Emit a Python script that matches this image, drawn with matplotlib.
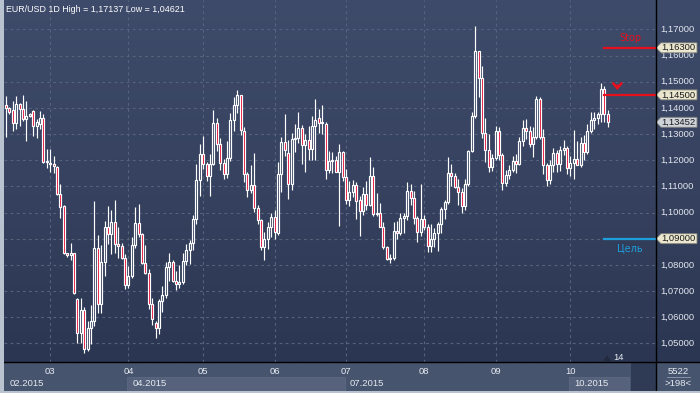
import numpy as np
import matplotlib
matplotlib.use("Agg")
import matplotlib.pyplot as plt
import matplotlib.transforms as mtrans
from matplotlib.patches import Rectangle, Polygon
from matplotlib.colors import LinearSegmentedColormap

plt.rcParams['font.family'] = ['Liberation Sans', 'DejaVu Sans']

# ---------------- data (EUR/USD daily, Feb - Oct 2015) ----------------
opens = [
    # Feb
    1.1410, 1.1398, 1.1392, 1.1343, 1.1415, 1.1396, 1.1358, 1.1370, 1.1390, 1.1332, 1.1339, 1.1362, 1.1194,
    # Mar
    1.1190, 1.1187, 1.1175, 1.1070, 1.1026, 1.0844, 1.0836, 1.0845, 1.0668, 1.0538, 1.0626, 1.0480, 1.0560,
    1.0585, 1.0866, 1.0649, 1.0809, 1.0943, 1.0917, 1.0962, 1.0879, 1.0873, 1.0828,
    # Apr
    1.0723, 1.0758, 1.0876, 1.0960, 1.0917, 1.0806, 1.0770, 1.0649, 1.0579, 1.0557, 1.0660, 1.0685, 1.0790,
    1.0810, 1.0740, 1.0728, 1.0735, 1.0816, 1.0857, 1.0884, 1.0976, 1.1125,
    # May
    1.1222, 1.1187, 1.1139, 1.1184, 1.1342, 1.1263, 1.1190, 1.1148, 1.1210, 1.1353, 1.1410, 1.1449, 1.1312,
    1.1148, 1.1087, 1.1106, 1.1018, 1.0972, 1.0870, 1.0900, 1.0944,
    # Jun
    1.0982, 1.0921, 1.1148, 1.1270, 1.1228, 1.1110, 1.1283, 1.1286, 1.1322, 1.1257, 1.1279, 1.1243, 1.1332,
    1.1362, 1.1341, 1.1339, 1.1162, 1.1198, 1.1200, 1.1154, 1.1233,
    # Jul
    1.1137, 1.1048, 1.1080, 1.1105, 1.1048, 1.1007, 1.1070, 1.1030, 1.1141, 1.0994, 1.0999, 1.0945, 1.0869,
    1.0822, 1.0825, 1.0928, 1.0920, 1.0981, 1.0985, 1.1083, 1.1055, 1.0979, 1.0924,
    # Aug
    1.0975, 1.0943, 1.0873, 1.0898, 1.0920, 1.0956, 1.1013, 1.1039, 1.1150, 1.1140, 1.1096, 1.1080, 1.1025,
    1.1110, 1.1235, 1.1369, 1.1619, 1.1514, 1.1305, 1.1241, 1.1174,
    # Sep
    1.1209, 1.1312, 1.1219, 1.1113, 1.1142, 1.1162, 1.1196, 1.1187, 1.1273, 1.1322, 1.1310, 1.1263, 1.1290,
    1.1433, 1.1290, 1.1183, 1.1126, 1.1183, 1.1228, 1.1186, 1.1241, 1.1245,
    # Oct
    1.1171, 1.1190, 1.1205, 1.1180, 1.1267, 1.1233, 1.1312, 1.1353, 1.1360, 1.1376, 1.1472, 1.1378,
]
highs = [
    1.1447, 1.1402, 1.1428, 1.1447, 1.1418, 1.1451, 1.1428, 1.1382, 1.1392, 1.1358, 1.1390, 1.1377, 1.1243,
    1.1243, 1.1217, 1.1179, 1.1109, 1.1030, 1.0847, 1.0885, 1.0847, 1.0675, 1.0675, 1.0640, 1.0585, 1.0647,
    1.1043, 1.0915, 1.0876, 1.0968, 1.1026, 1.1009, 1.1049, 1.0945, 1.0885, 1.0841,
    1.0796, 1.0905, 1.1022, 1.1032, 1.0923, 1.0876, 1.0783, 1.0675, 1.0585, 1.0670, 1.0720, 1.0812, 1.0846,
    1.0818, 1.0778, 1.0800, 1.0845, 1.0880, 1.0895, 1.0989, 1.1187, 1.1263,
    1.1291, 1.1194, 1.1222, 1.1391, 1.1362, 1.1286, 1.1204, 1.1273, 1.1382, 1.1440, 1.1468, 1.1449, 1.1327,
    1.1155, 1.1180, 1.1228, 1.1027, 1.0976, 1.0925, 1.0963, 1.0998,
    1.1010, 1.1195, 1.1290, 1.1378, 1.1279, 1.1305, 1.1337, 1.1385, 1.1335, 1.1300, 1.1330, 1.1370, 1.1434,
    1.1397, 1.1410, 1.1345, 1.1235, 1.1230, 1.1218, 1.1262, 1.1237,
    1.1166, 1.1120, 1.1123, 1.1115, 1.1064, 1.1096, 1.1121, 1.1214, 1.1176, 1.1073, 1.1035, 1.0965, 1.0873,
    1.0843, 1.0965, 1.0968, 1.0999, 1.0999, 1.1115, 1.1108, 1.1083, 1.0988, 1.1109,
    1.0990, 1.0956, 1.0956, 1.0940, 1.0963, 1.1022, 1.1048, 1.1213, 1.1185, 1.1150, 1.1130, 1.1093, 1.1130,
    1.1240, 1.1385, 1.1715, 1.1619, 1.1561, 1.1361, 1.1299, 1.1222,
    1.1332, 1.1327, 1.1228, 1.1164, 1.1181, 1.1215, 1.1225, 1.1287, 1.1353, 1.1358, 1.1330, 1.1327, 1.1447,
    1.1440, 1.1320, 1.1190, 1.1200, 1.1247, 1.1238, 1.1253, 1.1279, 1.1254,
    1.1215, 1.1317, 1.1275, 1.1287, 1.1298, 1.1340, 1.1385, 1.1385, 1.1385, 1.1497, 1.1485, 1.1392,
]
lows = [
    1.1288, 1.1378, 1.1313, 1.1320, 1.1332, 1.1351, 1.1272, 1.1365, 1.1294, 1.1285, 1.1320, 1.1188, 1.1170,
    1.1154, 1.1150, 1.1068, 1.0981, 1.0841, 1.0830, 1.0818, 1.0687, 1.0502, 1.0500, 1.0462, 1.0470, 1.0496,
    1.0565, 1.0615, 1.0615, 1.0758, 1.0879, 1.0841, 1.0847, 1.0828, 1.0822, 1.0707,
    1.0710, 1.0750, 1.0865, 1.0905, 1.0802, 1.0764, 1.0630, 1.0570, 1.0521, 1.0535, 1.0620, 1.0675, 1.0740,
    1.0735, 1.0705, 1.0710, 1.0725, 1.0800, 1.0805, 1.0857, 1.0955, 1.1065,
    1.1168, 1.1122, 1.1064, 1.1180, 1.1237, 1.1161, 1.1129, 1.1133, 1.1199, 1.1311, 1.1380, 1.1295, 1.1116,
    1.1060, 1.1076, 1.1002, 1.0957, 1.0855, 1.0819, 1.0861, 1.0905,
    1.0900, 1.0915, 1.1078, 1.1216, 1.1050, 1.1088, 1.1230, 1.1265, 1.1185, 1.1155, 1.1200, 1.1200, 1.1200,
    1.1306, 1.1300, 1.1127, 1.1150, 1.1150, 1.1154, 1.0947, 1.1122,
    1.1033, 1.1026, 1.1060, 1.0975, 1.0911, 1.0990, 1.1010, 1.1026, 1.0988, 1.0988, 1.0943, 1.0860, 1.0818,
    1.0808, 1.0820, 1.0900, 1.0915, 1.0920, 1.0970, 1.1030, 1.0958, 1.0886, 1.0910,
    1.0935, 1.0848, 1.0848, 1.0868, 1.0852, 1.0920, 1.0975, 1.1033, 1.1100, 1.1094, 1.1030, 1.1000, 1.1010,
    1.1100, 1.1230, 1.1362, 1.1440, 1.1285, 1.1195, 1.1155, 1.1160,
    1.1200, 1.1200, 1.1087, 1.1100, 1.1130, 1.1155, 1.1150, 1.1180, 1.1255, 1.1280, 1.1250, 1.1214, 1.1283,
    1.1280, 1.1146, 1.1100, 1.1110, 1.1155, 1.1155, 1.1160, 1.1220, 1.1148,
    1.1140, 1.1130, 1.1190, 1.1175, 1.1200, 1.1225, 1.1305, 1.1320, 1.1340, 1.1345, 1.1345, 1.1327,
]
closes = [
    1.1398, 1.1383, 1.1343, 1.1415, 1.1396, 1.1358, 1.1371, 1.1377, 1.1332, 1.1345, 1.1362, 1.1194, 1.1198,
    1.1185, 1.1178, 1.1070, 1.1023, 1.0844, 1.0836, 1.0845, 1.0691, 1.0538, 1.0626, 1.0480, 1.0560, 1.0585,
    1.0866, 1.0649, 1.0809, 1.0943, 1.0917, 1.0962, 1.0879, 1.0873, 1.0828, 1.0723,
    1.0758, 1.0876, 1.0960, 1.0917, 1.0806, 1.0770, 1.0649, 1.0592, 1.0557, 1.0660, 1.0685, 1.0790, 1.0810,
    1.0740, 1.0728, 1.0735, 1.0816, 1.0857, 1.0884, 1.0976, 1.1125, 1.1222,
    1.1187, 1.1139, 1.1184, 1.1342, 1.1263, 1.1190, 1.1148, 1.1210, 1.1353, 1.1410, 1.1449, 1.1314, 1.1148,
    1.1087, 1.1106, 1.1018, 1.0972, 1.0870, 1.0900, 1.0944, 1.0982,
    1.0925, 1.1148, 1.1270, 1.1238, 1.1110, 1.1283, 1.1286, 1.1322, 1.1257, 1.1279, 1.1243, 1.1332, 1.1354,
    1.1341, 1.1345, 1.1162, 1.1198, 1.1200, 1.1154, 1.1233, 1.1137,
    1.1048, 1.1080, 1.1105, 1.1045, 1.1007, 1.1070, 1.1030, 1.1141, 1.0994, 1.0999, 1.0945, 1.0869, 1.0822,
    1.0825, 1.0928, 1.0920, 1.0981, 1.0985, 1.1083, 1.1055, 1.0979, 1.0924, 1.0975,
    1.0943, 1.0873, 1.0898, 1.0920, 1.0956, 1.1013, 1.1039, 1.1150, 1.1140, 1.1096, 1.1080, 1.1025, 1.1110,
    1.1235, 1.1369, 1.1619, 1.1514, 1.1305, 1.1241, 1.1174, 1.1209,
    1.1312, 1.1219, 1.1113, 1.1142, 1.1162, 1.1196, 1.1187, 1.1273, 1.1322, 1.1310, 1.1263, 1.1290, 1.1433,
    1.1290, 1.1183, 1.1126, 1.1183, 1.1228, 1.1186, 1.1241, 1.1245, 1.1171,
    1.1190, 1.1205, 1.1180, 1.1267, 1.1233, 1.1312, 1.1353, 1.1360, 1.1376, 1.1472, 1.1378, 1.13452,
]

month_labels = ["03", "04", "05", "06", "07", "08", "09", "10"]
month_start = [13, 36, 58, 79, 100, 123, 144, 166]
quarter_labels = ["02.2015", "04.2015", "07.2015", "10.2015"]
quarter_start = [0, 36, 100, 166]
price_ticks = [1.17, 1.16, 1.15, 1.14, 1.13, 1.12, 1.11, 1.10, 1.08, 1.07, 1.06, 1.05]
title = "EUR/USD 1D High = 1,17137 Low = 1,04621"
stop_level = 1.163
entry_level = 1.145
target_level = 1.09
last_price = 1.13452

# ---------------- figure ----------------
W, H = 700, 393
fig = plt.figure(figsize=(W / 100, H / 100), dpi=100)
FS = 6.8

def fy(py):
    return 1 - py / H

# bottom panel (behind everything)
fig.patches.append(Rectangle((0, 0), 1, 31 / H, transform=fig.transFigure,
                             facecolor="#47546e", edgecolor="none", zorder=-3))

# gradient background (chart + price scale)
bg = fig.add_axes([0, fy(362), 1, 362 / H])
bg.set_zorder(-2)
cmap = LinearSegmentedColormap.from_list("bg", ["#3e4b6a", "#36425f", "#2b3652"])
bg.imshow(np.linspace(0, 1, 256).reshape(-1, 1), aspect="auto", cmap=cmap,
          extent=[0, 1, 0, 1], origin="upper")
bg.axis("off")

# scrollbar block
fig.patches.append(Rectangle((631 / W, fy(391)), 25 / W, 29 / H, transform=fig.transFigure,
                             facecolor="#2f3b54", edgecolor="none", zorder=-1))

ax = fig.add_axes([4 / W, fy(362), 652 / W, 362 / H])
ax.set_zorder(2)
ax.patch.set_alpha(0)
for s in ax.spines.values():
    s.set_visible(False)
ax.set_xticks([])
ax.set_yticks([])
ax.set_xlim(-0.59, -0.59 + 652 / 3.4)
ax.set_ylim(1.04285, 1.18128)

gridc = "#56637f"
for p in np.arange(1.05, 1.1701, 0.01):
    ax.axhline(p, color=gridc, lw=0.8, ls=(0, (2.5, 3)), zorder=1)
for m in month_start:
    ax.axvline(m, color=gridc, lw=0.8, ls=(0, (2.5, 3)), zorder=1)

o = np.array(opens); h = np.array(highs); l = np.array(lows); c = np.array(closes)
x = np.arange(len(o))
top = np.maximum(o, c)
bot = np.minimum(o, c)
ax.vlines(x, top, h, color="white", lw=0.85, zorder=3)
ax.vlines(x, l, bot, color="white", lw=0.85, zorder=3)
fill = np.where(c < o, "#e3002b", "#33405d")
ax.bar(x, np.maximum(top - bot, 0.00004), bottom=bot, width=0.62,
       color=fill, edgecolor="white", linewidth=0.85, zorder=4)

# level lines
n = len(o)
x0 = n - 2.1
xr = ax.get_xlim()[1]
ax.plot([x0, xr], [stop_level, stop_level], color="#e8101c", lw=1.6, zorder=5, clip_on=False)
ax.plot([x0, xr], [entry_level, entry_level], color="#e8101c", lw=1.6, zorder=5, clip_on=False)
ax.plot([x0, xr], [target_level, target_level], color="#1e9fdc", lw=1.6, zorder=5, clip_on=False)
px = 0.0003824  # price per pixel
ax.text(x0 + 7.8, stop_level + 9.5 * px, "Stop", color="#e8101c", fontsize=7,
        ha="center", va="center", family=["DejaVu Sans"])
ax.annotate("", xy=(x0 + 3.9, entry_level + 2.0 * px), xytext=(x0 + 3.9, entry_level + 12 * px),
            arrowprops=dict(arrowstyle="->,head_length=0.35,head_width=0.3", color="#e8101c", lw=1.8),
            zorder=6)
ax.text(x0 + 7.6, target_level - 9.5 * px, "Цель", color="#1e9fdc", fontsize=7,
        ha="center", va="center", family=["DejaVu Sans"])

# price scale
tr = mtrans.blended_transform_factory(fig.transFigure, ax.transData)
for p in price_ticks:
    ax.text(660.5 / W, p, f"{p:.5f}".replace(".", ","), transform=tr, color="#e2e6ee",
            fontsize=FS, va="center", ha="left", clip_on=False, zorder=6)

def tag(p, face):
    hh = 5 * px
    xs = np.array([656, 661, 697, 697, 661]) / W
    ys = [p, p + hh, p + hh, p - hh, p - hh]
    poly = Polygon(np.column_stack([xs, ys]), closed=True, transform=tr, facecolor=face,
                   edgecolor="#7d7f7a", lw=0.6, zorder=7, clip_on=False)
    ax.add_patch(poly)
    ax.text(661.5 / W, p, f"{p:.5f}".replace(".", ","), transform=tr, color="#1b1b1b",
            fontsize=FS, va="center", ha="left", clip_on=False, zorder=8)

tag(stop_level, "#ebe7cf")
tag(entry_level, "#ebe7cf")
tag(last_price, "#cfd3da")
tag(target_level, "#ebe7cf")

# title
fig.text(6 / W, fy(9), title, color="white", fontsize=6.4, va="center", ha="left")

# bottom axis: quarter boxes and labels
trb = mtrans.blended_transform_factory(ax.transData, fig.transFigure)
for i, (q0, lab) in enumerate(zip(quarter_start, quarter_labels)):
    if i % 2 == 1:
        q1 = quarter_start[i + 1] if i + 1 < len(quarter_start) else n + 5.5
        ax.add_patch(Rectangle((q0 - 0.3, fy(391)), q1 - q0, 14 / H, transform=trb,
                               facecolor="#56627c", edgecolor="#5f6b84", lw=0.5,
                               clip_on=False, zorder=2))
    ax.text(q0 + 1.2, fy(383.5), lab, transform=trb, color="#e6eaf1", fontsize=FS,
            va="center", ha="left", clip_on=False, zorder=3)
for m, lab in zip(month_start, month_labels):
    ax.text(m, fy(372), lab, transform=trb, color="#e6eaf1", fontsize=FS,
            va="center", ha="center", clip_on=False, zorder=3)

# "14" marker
fig.patches.append(Polygon([[603 / W, fy(361)], [611 / W, fy(361)], [607 / W, fy(355)]],
                           closed=True, transform=fig.transFigure, facecolor="#222b3e",
                           edgecolor="none", zorder=3))
fig.text(613 / W, fy(357.5), "14", color="#e6eaf1", fontsize=FS, va="center", ha="left")

# right bottom info
fig.text(678 / W, fy(371), "5522", color="#e6eaf1", fontsize=FS, va="center", ha="center")
fig.lines.append(plt.Line2D([667 / W, 690 / W], [fy(377), fy(377)], transform=fig.transFigure,
                            color="#8f9ab0", lw=0.6))
fig.text(678 / W, fy(384), ">198<", color="#e6eaf1", fontsize=FS, va="center", ha="center")

# frame lines
fig.lines.append(plt.Line2D([0, 1], [fy(362), fy(362)], transform=fig.transFigure,
                            color="black", lw=1.0, zorder=10))
fig.lines.append(plt.Line2D([656 / W, 656 / W], [0, 1], transform=fig.transFigure,
                            color="black", lw=1.0, zorder=10))
fig.patches.append(Rectangle((0, 0), 3.5 / W, 1, transform=fig.transFigure,
                             facecolor="#b9c2cf", edgecolor="none", zorder=11))
fig.patches.append(Rectangle((0, 0), 1, 2 / H, transform=fig.transFigure,
                             facecolor="#b9c2cf", edgecolor="none", zorder=11))

fig.savefig("out.png", dpi=100)
